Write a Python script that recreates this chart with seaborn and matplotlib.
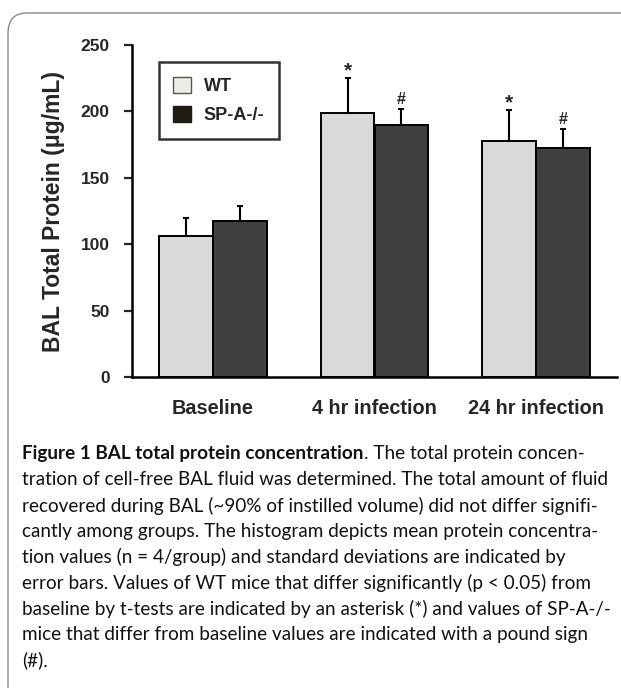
import matplotlib
matplotlib.use("Agg")
import matplotlib.pyplot as plt
import seaborn as sns
import pandas as pd
import numpy as np
from matplotlib.patches import Patch, FancyBboxPatch

categories = ["Baseline", "4 hr infection", "24 hr infection"]
groups = ["WT", "SP-A-/-"]
wt_mean = [106, 199, 178]
wt_sd = [14, 26, 23]
spa_mean = [117.5, 190, 172.5]
spa_sd = [11, 11.5, 14]
wt_marks = ["", "*", "*"]
spa_marks = ["", "#", "#"]
yticks = [0, 50, 100, 150, 200, 250]

caption_bold = "Figure 1 BAL total protein concentration"
caption_lines = [
    ". The total protein concen-",
    "tration of cell-free BAL fluid was determined. The total amount of fluid",
    "recovered during BAL (~90% of instilled volume) did not differ signifi-",
    "cantly among groups. The histogram depicts mean protein concentra-",
    "tion values (n = 4/group) and standard deviations are indicated by",
    "error bars. Values of WT mice that differ significantly (p < 0.05) from",
    "baseline by t-tests are indicated by an asterisk (*) and values of SP-A-/-",
    "mice that differ from baseline values are indicated with a pound sign",
    "(#).",
]

df = pd.DataFrame({
    "cond": categories * 2,
    "group": [groups[0]] * 3 + [groups[1]] * 3,
    "value": wt_mean + spa_mean,
})

sns.set_style("white")
plt.rcParams["font.family"] = ["Liberation Sans", "DejaVu Sans"]

W, H = 621, 688
fig = plt.figure(figsize=(W / 100, H / 100), dpi=100)
ax = fig.add_axes([132 / W, 1 - 377 / H, (617 - 132) / W, (377 - 45) / H])

bar_colors = ["#d9d9d9", "#404040"]
sns.barplot(data=df, x="cond", y="value", hue="group", order=categories,
            hue_order=groups, palette=bar_colors, width=0.667, errorbar=None,
            edgecolor="black", linewidth=1.4, saturation=1, ax=ax, legend=False)

# error bars (upward only) and significance marks
for cont, means, sds, marks in zip(ax.containers, [wt_mean, spa_mean], [wt_sd, spa_sd], [wt_marks, spa_marks]):
    for bar, m, s, mk in zip(cont, means, sds, marks):
        cx = bar.get_x() + bar.get_width() / 2
        ax.errorbar([cx], [m], yerr=[[0], [s]], fmt="none", ecolor="black",
                    elinewidth=1.5, capsize=2.5, capthick=1.5, zorder=1)
        if mk == "*":
            ax.text(cx, m + s - 2, mk, ha="center", va="bottom",
                    fontsize=15, fontweight="bold")
        elif mk:
            ax.text(cx, m + s + 2, mk, ha="center", va="bottom",
                    fontsize=11.5, fontweight="bold")

ax.set_xlim(-0.5, 2.5)
ax.set_ylim(0, 250)
ax.set_yticks(yticks)
ax.set_yticklabels([str(t) for t in yticks], fontsize=12.5, fontweight="bold")
ax.set_xticks(range(len(categories)))
ax.set_xticklabels(categories, fontsize=14.3, fontweight="bold")
ax.tick_params(axis="y", direction="out", length=6, width=1.6, pad=10, left=True)
ax.tick_params(axis="x", length=0, pad=16)
ax.set_xlabel("")
ax.set_ylabel("BAL Total Protein (\u03bcg/mL)", fontsize=16.5, fontweight="bold", labelpad=11)
for side in ["top", "right"]:
    ax.spines[side].set_visible(False)
for side in ["left", "bottom"]:
    ax.spines[side].set_linewidth(1.8)
    ax.spines[side].set_color("black")

handles = [Patch(facecolor="#eeede5", edgecolor="#555555", label=groups[0]),
           Patch(facecolor="#1f1c14", edgecolor="#1f1c14", label=groups[1])]
leg = ax.legend(handles=handles, loc="upper left", bbox_to_anchor=(0.055, 0.948),
                frameon=True, fancybox=False, edgecolor="black",
                prop={"weight": "bold", "size": 13}, handlelength=1.0,
                handleheight=1.0, handletextpad=0.7, borderpad=0.8,
                labelspacing=0.6, borderaxespad=0)
leg.get_frame().set_linewidth(1.8)

# outer rounded frame
frame = FancyBboxPatch((8 / W, -0.2), 1.2, (1 - 13 / H) + 0.2,
                       boxstyle="round,pad=0,rounding_size=0.03",
                       transform=fig.transFigure, facecolor="none",
                       edgecolor="#8a8a8a", linewidth=1.0, clip_on=False)
fig.patches.append(frame)

# caption
cap_font = ["Lato", "DejaVu Sans"]
fs = 13.6
x0 = 22 / W
y_first = 1 - 454 / H
line_h = 25.8 / H
tb = fig.text(x0, y_first, caption_bold, fontsize=fs, fontweight="bold",
              family=cap_font, va="center", ha="left", color="#111111")
fig.canvas.draw()
bb = tb.get_window_extent(renderer=fig.canvas.get_renderer())
fig.text(bb.x1 / W, y_first, caption_lines[0], fontsize=fs, family=cap_font,
         va="center", ha="left", color="#111111")
for i, line in enumerate(caption_lines[1:], start=1):
    fig.text(x0, y_first - i * line_h, line, fontsize=fs, family=cap_font,
             va="center", ha="left", color="#111111")

fig.savefig("out.png", dpi=100)
